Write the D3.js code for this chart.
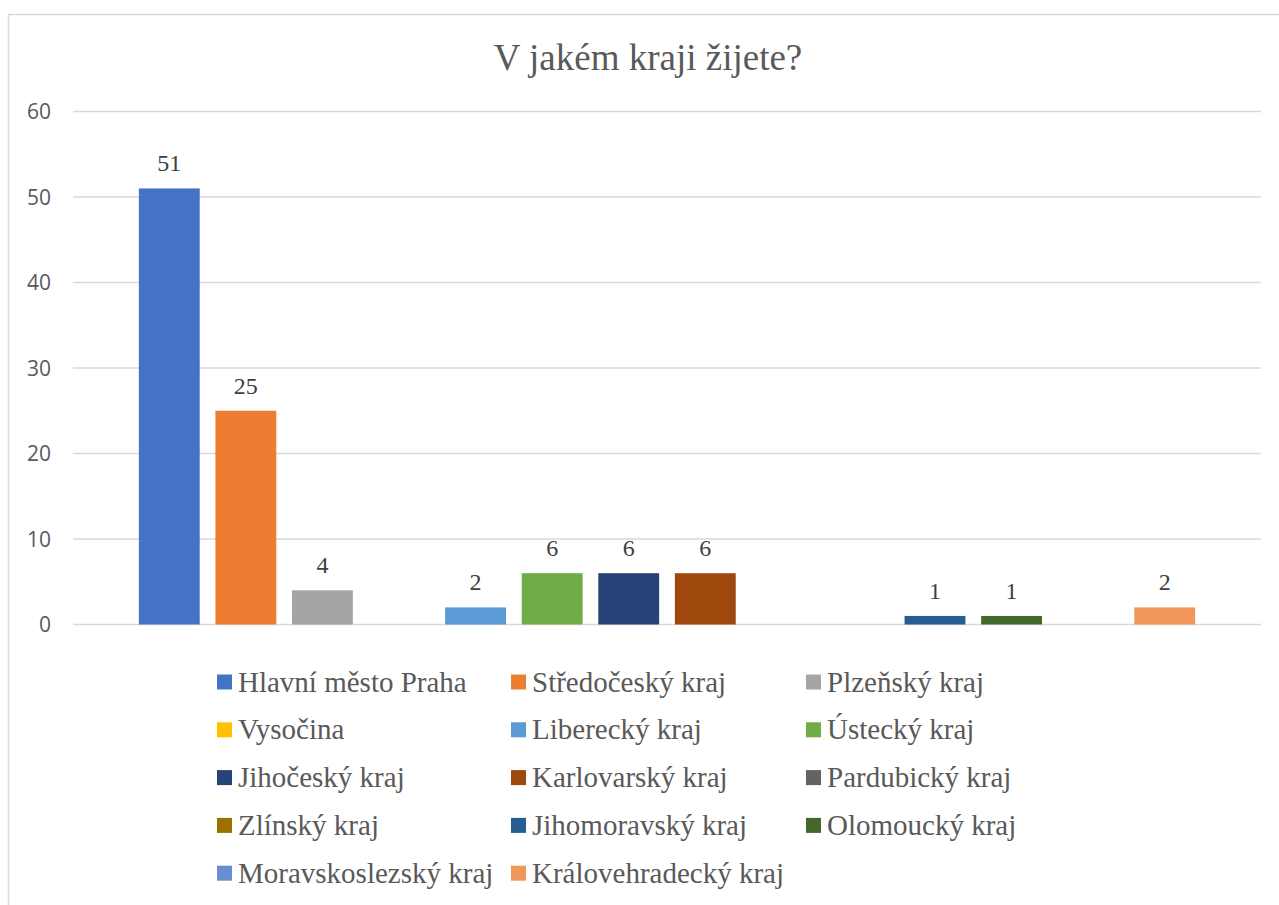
<!DOCTYPE html>
<html>
<head>
<meta charset="utf-8">
<script src="https://cdn.jsdelivr.net/npm/d3@7"></script>
<style>
  body { margin: 0; background: #fff; }
</style>
</head>
<body>
<div id="chart"></div>
<script>
// regions and counts
var regions = ["Hlavní město Praha", "Středočeský kraj", "Plzeňský kraj", "Vysočina",
    "Liberecký kraj", "Ústecký kraj", "Jihočeský kraj", "Karlovarský kraj",
    "Pardubický kraj", "Zlínský kraj", "Jihomoravský kraj", "Olomoucký kraj",
    "Moravskoslezský kraj", "Královehradecký kraj"];
var counts = [51, 25, 4, 0, 2, 6, 6, 6, 0, 0, 1, 1, 0, 2];
var colors = ["#4472C4", "#ED7D31", "#A5A5A5", "#FFC000", "#5B9BD5", "#70AD47",
    "#264478", "#9E480E", "#636363", "#997300", "#255E91", "#43682B",
    "#698ED0", "#F1975A"];
var yTicks = [0, 10, 20, 30, 40, 50, 60];
var title = "V jakém kraji žijete?";

var width = 1279, height = 905;
var serif = "Liberation Serif", sans = "Open Sans";

var svg = d3.select("#chart")
    .append("svg")
    .attr("width", width)
    .attr("height", height);

// chart frame
svg.append("rect")
    .attr("x", 8.5)
    .attr("y", 14.5)
    .attr("width", 1400)
    .attr("height", 1000)
    .attr("fill", "#fff")
    .attr("stroke", "#d9d9d9")
    .attr("stroke-width", 1.5);

var x = d3.scaleBand()
    .domain(regions)
    .range([73, 1261])
    .paddingInner(0.205)
    .paddingOuter(0.86);

var y = d3.scaleLinear()
    .domain([0, 60])
    .range([624.5, 111.5]);

// gridlines
svg.append("g")
    .selectAll("line")
    .data(yTicks)
    .enter().append("line")
    .attr("x1", 73)
    .attr("x2", 1261)
    .attr("y1", function (d) { return y(d); })
    .attr("y2", function (d) { return y(d); })
    .attr("stroke", "#d9d9d9")
    .attr("stroke-width", 1.5);

// y axis labels
var yAxis = d3.axisLeft(y).tickValues(yTicks).tickSize(0).tickPadding(0);
var gy = svg.append("g")
    .attr("transform", "translate(51,0)")
    .call(yAxis)
    .attr("font-family", sans)
    .attr("font-size", 21);
gy.select(".domain").remove();
gy.selectAll("text")
    .attr("fill", "#595959")
    .attr("dy", "0.34em");

// bars
svg.append("g")
    .selectAll("rect")
    .data(counts)
    .enter().append("rect")
    .attr("x", function (d, i) { return x(regions[i]); })
    .attr("y", function (d) { return y(d); })
    .attr("width", x.bandwidth())
    .attr("height", function (d) { return y(0) - y(d); })
    .attr("fill", function (d, i) { return colors[i]; });

// data labels, zeros are not labelled
var labels = svg.append("g")
    .attr("font-family", serif)
    .attr("font-size", 24);
counts.forEach(function (d, i) {
    if (d === 0) return;
    labels.append("text")
        .attr("x", x(regions[i]) + x.bandwidth() / 2)
        .attr("y", y(d) - 17)
        .attr("text-anchor", "middle")
        .attr("fill", "#404040")
        .text(d);
});

// title
svg.append("text")
    .attr("x", 648)
    .attr("y", 70)
    .attr("text-anchor", "middle")
    .attr("fill", "#595959")
    .attr("font-family", serif)
    .attr("font-size", 37)
    .text(title);

// legend, 3 columns
var legendCols = [217, 511, 806];
var legendRow0 = 682, legendRowStep = 47.8;
var legend = svg.append("g")
    .attr("font-family", serif)
    .attr("font-size", 29);
regions.forEach(function (r, i) {
    var cx = legendCols[i % 3];
    var cy = legendRow0 + Math.floor(i / 3) * legendRowStep;
    legend.append("rect")
        .attr("x", cx)
        .attr("y", cy - 7.5)
        .attr("width", 15)
        .attr("height", 15)
        .attr("fill", colors[i]);
    legend.append("text")
        .attr("x", cx + 21)
        .attr("y", cy + 9.5)
        .attr("fill", "#595959")
        .text(r);
});
</script>
</body>
</html>
